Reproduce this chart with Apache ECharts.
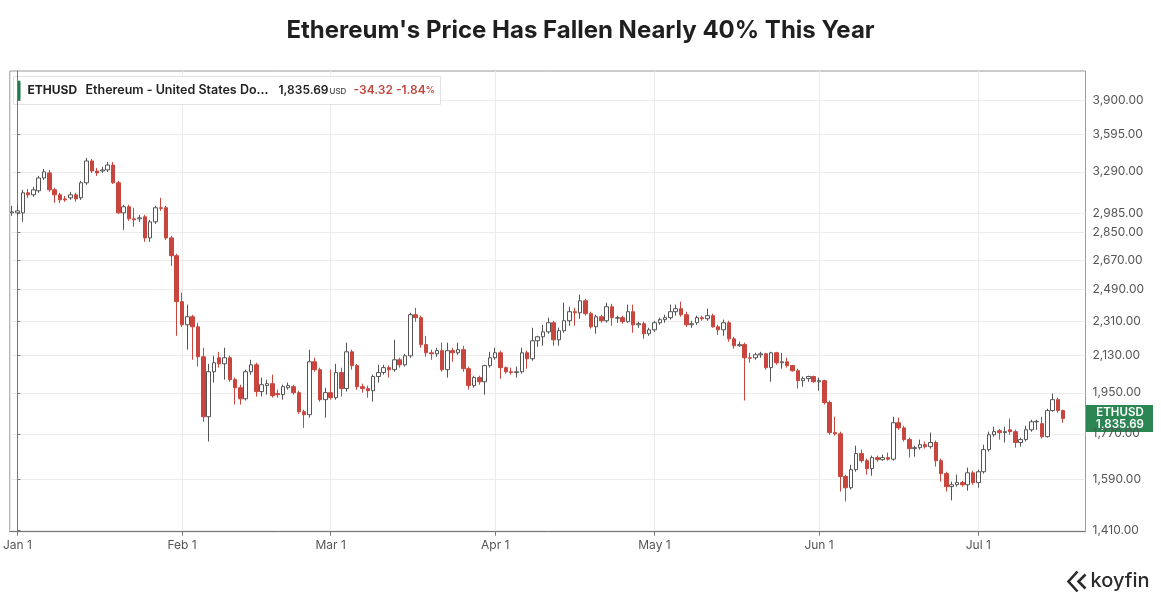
<!DOCTYPE html>
<html>
<head>
<meta charset="utf-8">
<title>ETHUSD</title>
<script src="https://cdn.jsdelivr.net/npm/echarts@6/dist/echarts.min.js"></script>
<style>
    html, body { margin: 0; padding: 0; background: #fff; }
    #chart { width: 1161px; height: 600px; }
</style>
</head>
<body>
<div id="chart"></div>
<script>
// daily candles, first one is Dec 31 (day -1), Jan 1 is day 0
const firstDay = -1;

const openPrice = [
    2986, 2986, 2986, 3131, 3116, 3146, 3243, 3282, 3153, 3116,
    3086, 3094, 3116, 3094, 3206, 3376, 3297, 3297, 3305, 3344,
    3206, 2986, 3029, 2944, 2944, 2958, 2814, 2923, 3022, 3022,
    2814, 2698, 2420, 2291, 2335, 2280, 2124, 1843, 2050, 2119,
    2089, 2119, 2012, 1974, 1923, 2050, 2084, 1956, 1984, 1993,
    1947, 1942, 1974, 1979, 1951, 1865, 1852, 2099, 2060, 1919,
    1951, 1928, 2046, 1970, 2149, 2080, 1979, 1970, 1960, 2027,
    2046, 2070, 2060, 2109, 2084, 2129, 2346, 2330, 2186, 2144,
    2139, 2155, 2060, 2155, 2144, 2160, 2065, 1984, 2022, 2002,
    2080, 2119, 2144, 2070, 2050, 2046, 2050, 2144, 2114, 2206,
    2227, 2253, 2302, 2211, 2259, 2313, 2363, 2357, 2425, 2352,
    2280, 2335, 2313, 2391, 2327, 2330, 2308, 2363, 2291, 2297,
    2243, 2264, 2302, 2319, 2330, 2363, 2380, 2346, 2291, 2302,
    2330, 2324, 2341, 2280, 2264, 2302, 2216, 2180, 2186, 2119,
    2119, 2134, 2139, 2070, 2144, 2094, 2099, 2080, 2055, 2007,
    2017, 2027, 2002, 2007, 1906, 1775, 1770, 1600, 1558, 1626,
    1689, 1661, 1630, 1673, 1665, 1673, 1667, 1817, 1795, 1746,
    1709, 1713, 1725, 1717, 1734, 1661, 1611, 1562, 1569, 1577,
    1569, 1614, 1577, 1618, 1705, 1766, 1783, 1775, 1787, 1779,
    1734, 1746, 1787, 1821, 1813, 1758, 1870, 1919, 1870.01
];

const closePrice = [
    2993, 3000, 3131, 3116, 3153, 3243, 3290, 3153, 3116, 3079,
    3079, 3116, 3086, 3206, 3376, 3297, 3282, 3305, 3344, 3206,
    2986, 3029, 2944, 2937, 2951, 2814, 2923, 3022, 3018, 2814,
    2698, 2420, 2291, 2335, 2280, 2124, 1843, 2050, 2094, 2089,
    2119, 2012, 1974, 1923, 2050, 2084, 1956, 1988, 1993, 1937,
    1942, 1979, 1984, 1951, 1865, 1852, 2099, 2060, 1919, 1951,
    1928, 2046, 1970, 2149, 2080, 1979, 1970, 1960, 2027, 2046,
    2070, 2060, 2109, 2084, 2129, 2346, 2330, 2186, 2144, 2139,
    2155, 2060, 2155, 2144, 2160, 2065, 1984, 2022, 2002, 2080,
    2119, 2144, 2070, 2050, 2046, 2050, 2144, 2114, 2206, 2227,
    2253, 2302, 2211, 2259, 2313, 2363, 2357, 2425, 2352, 2280,
    2335, 2313, 2391, 2330, 2330, 2308, 2363, 2291, 2297, 2243,
    2264, 2302, 2319, 2330, 2363, 2380, 2346, 2291, 2297, 2330,
    2324, 2341, 2280, 2264, 2302, 2216, 2180, 2186, 2119, 2117,
    2134, 2139, 2070, 2144, 2094, 2099, 2080, 2055, 2007, 2017,
    2027, 2002, 2007, 1906, 1775, 1770, 1600, 1558, 1626, 1689,
    1661, 1630, 1673, 1665, 1673, 1667, 1817, 1795, 1746, 1709,
    1713, 1725, 1717, 1734, 1661, 1611, 1562, 1569, 1577, 1569,
    1614, 1577, 1618, 1705, 1766, 1779, 1775, 1779, 1779, 1734,
    1746, 1787, 1821, 1823, 1758, 1870, 1919, 1870.01, 1835.69
];

const lowPrice = [
    2965, 2965, 2923, 3094, 3101, 3131, 3228, 3138, 3057, 3057,
    3065, 3079, 3065, 3079, 3191, 3282, 3259, 3282, 3290, 3198,
    2979, 2868, 2930, 2889, 2923, 2788, 2788, 2909, 3000, 2801,
    2634, 2232, 2280, 2160, 2109, 2075, 1821, 1738, 1998, 2070,
    2012, 2002, 1897, 1897, 1915, 2036, 1933, 1933, 1942, 1928,
    1928, 1919, 1965, 1942, 1856, 1795, 1839, 2050, 1910, 1839,
    1919, 1919, 1933, 1956, 2060, 1965, 1951, 1928, 1910, 1998,
    2036, 2022, 2050, 2070, 2075, 2119, 2308, 2170, 2124, 2109,
    2124, 2050, 2022, 2099, 2134, 2050, 1965, 1974, 1988, 1942,
    2070, 2109, 2017, 2041, 2036, 2022, 2041, 2065, 2104, 2175,
    2180, 2243, 2180, 2180, 2248, 2286, 2286, 2324, 2341, 2270,
    2243, 2302, 2302, 2286, 2302, 2297, 2302, 2248, 2275, 2216,
    2232, 2253, 2291, 2302, 2319, 2341, 2335, 2280, 2275, 2291,
    2313, 2313, 2275, 2237, 2232, 2201, 2165, 2175, 1915, 2094,
    2109, 2119, 2060, 2002, 2084, 2065, 2070, 2050, 1970, 1979,
    2002, 1998, 1960, 1897, 1766, 1762, 1544, 1508, 1551, 1618,
    1653, 1607, 1603, 1657, 1661, 1661, 1661, 1787, 1738, 1673,
    1677, 1705, 1709, 1709, 1638, 1581, 1544, 1512, 1562, 1562,
    1547, 1569, 1558, 1611, 1697, 1758, 1746, 1734, 1766, 1713,
    1717, 1738, 1779, 1787, 1750, 1754, 1865, 1861, 1817
];

const highPrice = [
    3036, 3043, 3153, 3160, 3175, 3259, 3313, 3305, 3168, 3131,
    3108, 3138, 3131, 3221, 3400, 3392, 3321, 3329, 3368, 3368,
    3221, 3043, 3043, 3022, 2972, 2972, 2937, 3036, 3094, 3036,
    2828, 2710, 2472, 2403, 2346, 2302, 2170, 2089, 2129, 2149,
    2170, 2129, 2022, 1988, 2060, 2109, 2094, 2022, 2012, 2036,
    1965, 1988, 1998, 1988, 1960, 1874, 2160, 2119, 2070, 1974,
    2060, 2089, 2070, 2196, 2160, 2089, 1993, 1984, 2036, 2084,
    2084, 2080, 2211, 2119, 2139, 2357, 2385, 2341, 2232, 2160,
    2170, 2196, 2196, 2170, 2196, 2180, 2075, 2031, 2031, 2084,
    2149, 2170, 2155, 2075, 2070, 2075, 2170, 2155, 2275, 2232,
    2291, 2330, 2313, 2275, 2414, 2391, 2385, 2460, 2437, 2363,
    2346, 2346, 2414, 2408, 2341, 2341, 2403, 2403, 2308, 2308,
    2275, 2313, 2330, 2346, 2403, 2403, 2420, 2363, 2313, 2341,
    2341, 2380, 2352, 2291, 2319, 2313, 2227, 2201, 2196, 2144,
    2144, 2149, 2144, 2149, 2149, 2144, 2119, 2084, 2065, 2027,
    2031, 2031, 2022, 2012, 1915, 1843, 1779, 1607, 1645, 1721,
    1705, 1669, 1681, 1681, 1685, 1693, 1843, 1839, 1804, 1754,
    1721, 1746, 1738, 1775, 1742, 1669, 1618, 1581, 1607, 1584,
    1634, 1622, 1626, 1725, 1779, 1800, 1791, 1800, 1835, 1787,
    1754, 1804, 1830, 1830, 1843, 1878, 1947, 1928, 1874
];

// month starts (day index from Jan 1) and their labels
const monthDays = [0, 31, 59, 90, 120, 151, 181];
const monthLabels = ['Jan 1', 'Feb 1', 'Mar 1', 'Apr 1', 'May 1', 'Jun 1', 'Jul 1'];

// price axis ticks (log scaled axis)
const priceTicks = [1410, 1590, 1770, 1950, 2130, 2310, 2490, 2670, 2850, 2985, 3290, 3595, 3900];
const priceMin = 1404;
const priceMax = 4177;

const lastPrice = 1835.69;
const priceChange = -34.32;
const pctChange = -1.84;

const FONT = 'Inter, "Noto Sans", sans-serif';

function fmtPrice(p) {
    return p.toLocaleString('en-US', {minimumFractionDigits: 2, maximumFractionDigits: 2});
}

// log scale by hand: values go in as ln(price), labels come back as price
let candles = openPrice.map(function (o, k) {
    return [firstDay + k, Math.log(o), Math.log(closePrice[k]), Math.log(lowPrice[k]), Math.log(highPrice[k])];
});
let tickLogs = priceTicks.map(function (p) { return Math.log(p); });

let chart = echarts.init(document.getElementById('chart'));

let option = {
    animation: false,
    backgroundColor: '#ffffff',
    title: {
        text: "Ethereum's Price Has Fallen Nearly 40% This Year",
        left: 'center',
        top: 14,
        textStyle: {fontFamily: FONT, fontSize: 24, fontWeight: 700, color: '#1f1f1f'}
    },
    grid: {
        left: 8, right: 75.5, top: 71, bottom: 68.3,
        show: true, borderColor: '#9a9a9a', borderWidth: 1
    },
    xAxis: {
        type: 'value',
        min: -1.45,
        max: 201.2,
        axisLine: {show: true, lineStyle: {color: '#777'}},
        axisTick: {show: true, customValues: monthDays, length: 4, lineStyle: {color: '#777'}},
        axisLabel: {
            customValues: monthDays,
            formatter: function (v) { return monthLabels[monthDays.indexOf(v)] || ''; },
            color: '#555', fontSize: 12, fontFamily: FONT, margin: 8
        },
        splitLine: {show: true, lineStyle: {color: '#ececec'}}
    },
    yAxis: {
        type: 'value',
        position: 'right',
        min: Math.log(priceMin),
        max: Math.log(priceMax),
        axisLine: {show: true, lineStyle: {color: '#777'}},
        axisTick: {show: true, customValues: tickLogs, length: 3, lineStyle: {color: '#777'}},
        axisLabel: {
            customValues: tickLogs,
            formatter: function (v) { return fmtPrice(Math.round(Math.exp(v))); },
            color: '#555', fontSize: 12, fontFamily: FONT, margin: 7
        },
        splitLine: {show: true, lineStyle: {color: '#ececec'}}
    },
    series: [{
        type: 'candlestick',
        data: candles,
        encode: {x: 0, y: [1, 2, 3, 4]},
        barWidth: 4,
        itemStyle: {
            color: '#ffffff',
            color0: '#c8463d',
            borderColor: '#555555',
            borderColor0: '#c8463d',
            borderWidth: 1
        }
    }]
};

chart.setOption(option);

// legend strip, price tag and logo
let tagY = chart.convertToPixel({yAxisIndex: 0}, Math.log(lastPrice));

chart.setOption({
    graphic: [
        {
            type: 'group', left: 13, top: 76,
            children: [
                {type: 'rect', shape: {x: 0, y: 0, width: 427, height: 28}, style: {fill: '#fff', stroke: '#e2e2e2'}},
                {type: 'rect', shape: {x: 4, y: 4, width: 3, height: 20, r: 1.5}, style: {fill: '#1f7a48'}},
                {type: 'text', x: 14, y: 14, style: {text: 'ETHUSD', fill: '#222', font: '700 12px ' + FONT, verticalAlign: 'middle'}},
                {type: 'text', x: 72, y: 14, style: {text: 'Ethereum - United States Do...', fill: '#222', font: '600 12.5px ' + FONT, verticalAlign: 'middle'}},
                {type: 'text', x: 265, y: 14, style: {text: fmtPrice(lastPrice), fill: '#222', font: '600 12px ' + FONT, verticalAlign: 'middle'}},
                {type: 'text', x: 316, y: 15, style: {text: 'USD', fill: '#444', font: '500 8px ' + FONT, verticalAlign: 'middle'}},
                {
                    type: 'text', x: 340, y: 14,
                    style: {
                        text: '{a|' + priceChange.toFixed(2) + ' ' + pctChange.toFixed(2) + '}{b|%}',
                        verticalAlign: 'middle',
                        rich: {
                            a: {fill: '#c0473e', font: '600 12px ' + FONT},
                            b: {fill: '#c0473e', font: '600 9px ' + FONT}
                        }
                    }
                }
            ]
        },
        {
            type: 'group', left: 1086, top: tagY - 13.5,
            children: [
                {type: 'rect', shape: {x: 0, y: 0, width: 67, height: 27}, style: {fill: '#2b8653'}},
                {type: 'text', x: 34, y: 8, style: {text: 'ETHUSD', fill: '#fff', font: '600 11.5px ' + FONT, align: 'center', verticalAlign: 'middle'}},
                {type: 'text', x: 34, y: 20, style: {text: fmtPrice(lastPrice), fill: '#fff', font: '600 11.5px ' + FONT, align: 'center', verticalAlign: 'middle'}}
            ]
        },
        {
            type: 'group', left: 1066, top: 569,
            children: [
                {type: 'polyline', shape: {points: [[10, 0], [1, 10], [10, 20]]}, style: {stroke: '#2b2b2b', lineWidth: 2.6, fill: null}},
                {type: 'polyline', shape: {points: [[18, 3], [11, 10], [18, 17], [14, 13]]}, style: {stroke: '#2b2b2b', lineWidth: 2.6, fill: null}},
                {type: 'text', x: 23, y: 9, style: {text: 'koyfin', fill: '#2b2b2b', font: '500 20px ' + FONT, verticalAlign: 'middle'}}
            ]
        }
    ]
});
</script>
</body>
</html>
